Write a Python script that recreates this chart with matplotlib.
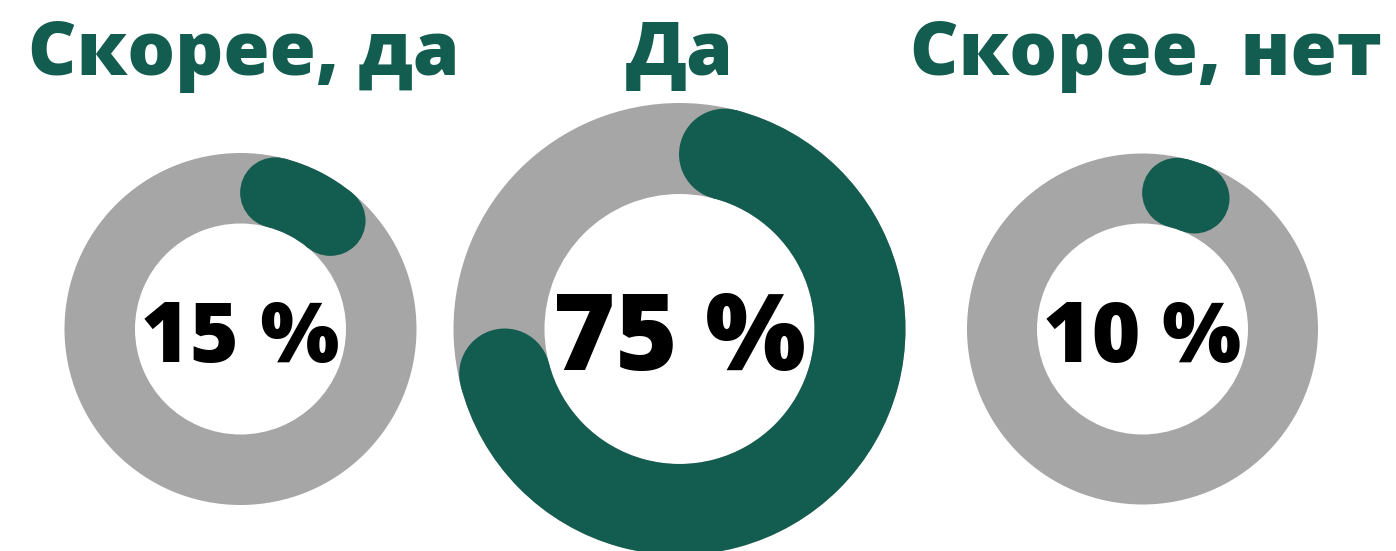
import numpy as np
import matplotlib.pyplot as plt
from matplotlib.patches import Wedge, Circle

# данные
labels   = ["Скорее, да", "Да", "Скорее, нет"]
percents = [15, 75, 10]

# расположение колец (в пикселях)
centers_x = [240.5, 679.5, 1142.5]
center_y  = 551 - 329
outer_r   = [176, 226, 175.5]
inner_r   = [105.5, 135, 105.5]
title_size = 54
pct_size   = [60, 76.5, 60]
pct_base   = [551 - 362, 551 - 370, 551 - 362]

green = "#135C50"
gray  = "#A6A6A6"

plt.rcParams['font.family'] = ['Open Sans', 'DejaVu Sans']

fig = plt.figure(figsize=(13.96, 5.51), dpi=100)
ax = fig.add_axes([0, 0, 1, 1])
ax.set_xlim(0, 1396)
ax.set_ylim(0, 551)
ax.set_aspect("equal")
ax.axis("off")

for i in range(len(percents)):
    cx = centers_x[i]
    ro = outer_r[i]
    ri = inner_r[i]
    w  = ro - ri
    rm = (ro + ri) / 2

    # серое кольцо
    ax.add_patch(Wedge((cx, center_y), ro, 0, 360, width=w, color=gray, lw=0))

    # зелёная дуга с закруглёнными концами, по часовой стрелке от верха
    cap = np.degrees((w / 2) / rm)
    span = percents[i] * 3.6
    a_start = 90 - cap
    a_end   = 90 - (span - cap)
    if a_end < a_start:
        ax.add_patch(Wedge((cx, center_y), ro, a_end, a_start, width=w, color=green, lw=0))
    for a in (a_start, a_end):
        ax.add_patch(Circle((cx + rm * np.cos(np.radians(a)), center_y + rm * np.sin(np.radians(a))),
                            w / 2, color=green, lw=0))

    # подписи
    ax.text(cx, pct_base[i], f"{percents[i]} %", ha="center", va="baseline",
            fontsize=pct_size[i], fontweight="heavy", color="black")
    ax.text(cx + (3 if i != 1 else 0), 551 - 75, labels[i], ha="center", va="baseline",
            fontsize=title_size, fontweight="heavy", color=green)

fig.savefig("out.png", dpi=100)
